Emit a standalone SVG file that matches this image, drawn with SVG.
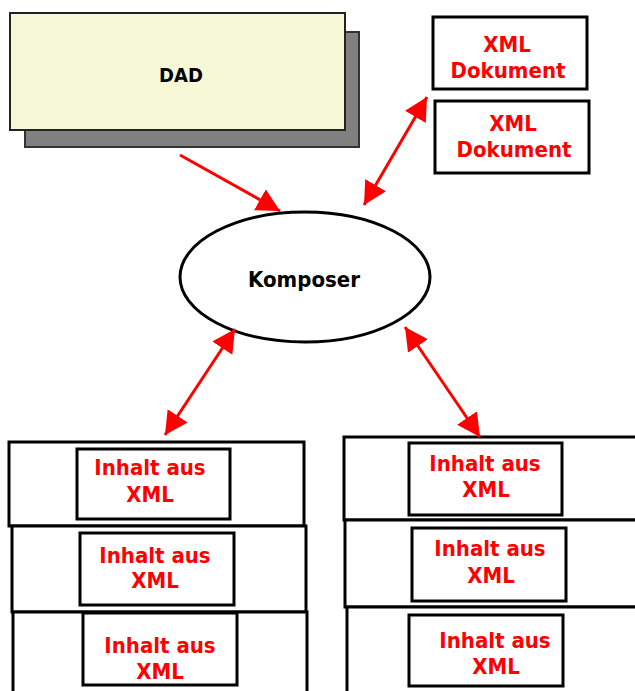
<svg xmlns="http://www.w3.org/2000/svg" width="635" height="691" viewBox="0 0 635 691">
<style>
.box{fill:#fff;stroke:#000;stroke-width:3}
.red{fill:#f00;font-family:"DejaVu Sans Condensed","DejaVu Sans",sans-serif;font-weight:bold;font-size:22px;text-anchor:middle}
.blk{fill:#000;font-family:"DejaVu Sans Condensed","DejaVu Sans",sans-serif;font-weight:bold;text-anchor:middle}
.arr{stroke:#f00;stroke-width:3;fill:none}
</style>
<defs>
<marker id="ah" markerUnits="userSpaceOnUse" markerWidth="26" markerHeight="26" refX="23" refY="12" orient="auto-start-reverse" viewBox="0 0 26 26">
<path d="M0,0 L23,12 L0,24 z" fill="#f00"/>
</marker>
</defs>
<rect width="635" height="691" fill="#fff"/>
<g id="dad">
<rect x="25" y="32" width="334" height="115" fill="#808080" stroke="#333" stroke-width="2"/>
<rect x="10" y="13" width="335" height="117" fill="#f6f8d6" stroke="#222" stroke-width="2"/>
<text class="blk" x="181" y="82" font-size="20">DAD</text>
</g>
<g id="xml-dok-1">
<rect class="box" x="433" y="17" width="154" height="72"/>
<text class="red" x="507" y="52">XML</text>
<text class="red" x="508" y="78">Dokument</text>
</g>
<g id="xml-dok-2">
<rect class="box" x="435" y="101" width="154" height="72"/>
<text class="red" x="513" y="131">XML</text>
<text class="red" x="514" y="157">Dokument</text>
</g>
<g id="komposer">
<ellipse cx="305" cy="277" rx="125" ry="65" fill="#fff" stroke="#000" stroke-width="3"/>
<text class="blk" x="304" y="287" font-size="22">Komposer</text>
</g>
<g id="left-stack">
<rect class="box" x="9" y="442" width="295" height="84"/>
<rect class="box" x="12" y="526" width="294" height="86"/>
<rect class="box" x="13" y="612" width="294" height="90"/>
<rect class="box" x="77" y="449" width="153" height="70"/>
<rect class="box" x="80" y="533" width="154" height="72"/>
<rect class="box" x="83" y="613" width="154" height="72"/>
<text class="red" x="150" y="475">Inhalt aus</text>
<text class="red" x="150" y="502">XML</text>
<text class="red" x="155" y="563">Inhalt aus</text>
<text class="red" x="155" y="588">XML</text>
<text class="red" x="160" y="653">Inhalt aus</text>
<text class="red" x="160" y="679">XML</text>
</g>
<g id="right-stack">
<rect class="box" x="344" y="437" width="310" height="83"/>
<rect class="box" x="345" y="520" width="310" height="87"/>
<rect class="box" x="347" y="607" width="310" height="95"/>
<rect class="box" x="409" y="443" width="153" height="72"/>
<rect class="box" x="412" y="528" width="154" height="73"/>
<rect class="box" x="409" y="615" width="154" height="71"/>
<text class="red" x="485" y="471">Inhalt aus</text>
<text class="red" x="486" y="497">XML</text>
<text class="red" x="490" y="556">Inhalt aus</text>
<text class="red" x="491" y="583">XML</text>
<text class="red" x="495" y="648">Inhalt aus</text>
<text class="red" x="496" y="674">XML</text>
</g>
<g id="connectors">
<line class="arr" x1="180" y1="155" x2="280" y2="211" marker-end="url(#ah)"/>
<line class="arr" x1="427" y1="97" x2="364" y2="205" marker-start="url(#ah)" marker-end="url(#ah)"/>
<line class="arr" x1="235" y1="329" x2="165" y2="435" marker-start="url(#ah)" marker-end="url(#ah)"/>
<line class="arr" x1="405" y1="327" x2="480" y2="437" marker-start="url(#ah)" marker-end="url(#ah)"/>
</g>
</svg>
